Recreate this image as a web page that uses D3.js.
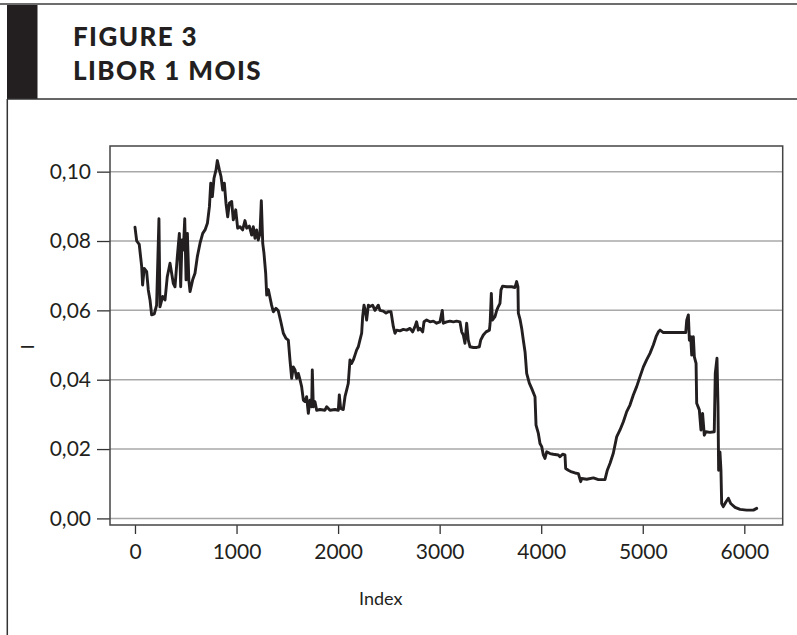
<!DOCTYPE html>
<html>
<head>
	<meta charset="utf-8">
	<title>Libor 1 mois</title>
	<script type="text/javascript" src="https://cdn.jsdelivr.net/npm/d3@7"></script>
	<style type="text/css">
		body { margin: 0; background: #fff; }
	</style>
</head>
<body>

<div id="chart"></div>

<script type="text/javascript">
const index = [
    0, 17, 42, 66, 75, 91, 115, 131, 148, 164, 190, 213, 236, 246, 273, 296, 318, 345, 361, 377,
    394, 417, 437, 450, 463, 476, 490, 503, 516, 530, 542, 568, 591, 614, 640, 667, 690, 713, 733, 746,
    762, 778, 798, 811, 831, 847, 864, 880, 896, 913, 929, 952, 968, 992, 1011, 1034, 1060, 1083, 1100, 1126,
    1149, 1165, 1182, 1198, 1214, 1231, 1244, 1258, 1270, 1287, 1297, 1313, 1345, 1362, 1388, 1411, 1434, 1461, 1487, 1510,
    1526, 1543, 1559, 1576, 1592, 1608, 1625, 1641, 1658, 1674, 1690, 1707, 1723, 1740, 1746, 1756, 1772, 1789, 1822, 1871,
    1888, 1920, 1970, 2002, 2012, 2025, 2051, 2068, 2084, 2100, 2117, 2133, 2150, 2166, 2183, 2199, 2215, 2232, 2242, 2255,
    2268, 2281, 2298, 2314, 2340, 2363, 2396, 2412, 2445, 2472, 2494, 2521, 2544, 2560, 2577, 2609, 2642, 2675, 2708, 2734,
    2757, 2773, 2790, 2806, 2833, 2846, 2872, 2905, 2938, 2970, 3003, 3026, 3036, 3069, 3102, 3135, 3167, 3200, 3217, 3233,
    3249, 3266, 3282, 3299, 3332, 3365, 3391, 3404, 3430, 3457, 3490, 3497, 3509, 3519, 3545, 3562, 3578, 3594, 3604, 3620,
    3659, 3709, 3742, 3758, 3771, 3775, 3791, 3808, 3824, 3841, 3857, 3883, 3906, 3939, 3949, 3972, 3988, 4005, 4021, 4037,
    4054, 4087, 4119, 4169, 4185, 4211, 4234, 4241, 4267, 4300, 4333, 4366, 4389, 4399, 4448, 4514, 4563, 4628, 4651, 4678,
    4710, 4743, 4776, 4809, 4842, 4874, 4907, 4940, 4973, 5006, 5038, 5071, 5104, 5131, 5154, 5170, 5203, 5269, 5334, 5400,
    5423, 5433, 5449, 5459, 5472, 5482, 5498, 5508, 5525, 5531, 5557, 5573, 5589, 5606, 5622, 5661, 5704, 5714, 5731, 5741,
    5747, 5760, 5770, 5777, 5793, 5820, 5843, 5866, 5909, 5958, 6023, 6089, 6122
];

const libor = [
    0.0840, 0.0800, 0.0790, 0.0726, 0.0673, 0.0721, 0.0712, 0.0659, 0.0630, 0.0587, 0.0590, 0.0615, 0.0864, 0.0610, 0.0640, 0.0630, 0.0697, 0.0736, 0.0707, 0.0678,
    0.0668, 0.0755, 0.0822, 0.0668, 0.0803, 0.0774, 0.0864, 0.0688, 0.0822, 0.0688, 0.0654, 0.0688, 0.0707, 0.0755, 0.0793, 0.0822, 0.0832, 0.0851, 0.0899, 0.0967,
    0.0928, 0.0981, 0.1005, 0.1032, 0.1005, 0.0986, 0.0947, 0.0967, 0.0909, 0.0870, 0.0909, 0.0914, 0.0861, 0.0890, 0.0837, 0.0841, 0.0832, 0.0859, 0.0837, 0.0843,
    0.0817, 0.0841, 0.0808, 0.0832, 0.0803, 0.0822, 0.0916, 0.0793, 0.0765, 0.0707, 0.0644, 0.0660, 0.0615, 0.0596, 0.0606, 0.0599, 0.0570, 0.0534, 0.0519, 0.0514,
    0.0457, 0.0404, 0.0437, 0.0428, 0.0404, 0.0418, 0.0400, 0.0380, 0.0341, 0.0337, 0.0351, 0.0303, 0.0341, 0.0322, 0.0428, 0.0322, 0.0337, 0.0312, 0.0314, 0.0312,
    0.0322, 0.0312, 0.0314, 0.0312, 0.0356, 0.0317, 0.0314, 0.0351, 0.0370, 0.0389, 0.0457, 0.0447, 0.0457, 0.0471, 0.0486, 0.0495, 0.0514, 0.0534, 0.0582, 0.0615,
    0.0600, 0.0572, 0.0615, 0.0611, 0.0615, 0.0600, 0.0615, 0.0600, 0.0598, 0.0592, 0.0596, 0.0596, 0.0553, 0.0534, 0.0543, 0.0541, 0.0545, 0.0543, 0.0548, 0.0538,
    0.0553, 0.0567, 0.0543, 0.0548, 0.0538, 0.0567, 0.0572, 0.0567, 0.0569, 0.0563, 0.0567, 0.0600, 0.0563, 0.0567, 0.0569, 0.0567, 0.0569, 0.0567, 0.0538, 0.0529,
    0.0505, 0.0563, 0.0514, 0.0495, 0.0493, 0.0493, 0.0495, 0.0514, 0.0529, 0.0538, 0.0543, 0.0563, 0.0649, 0.0572, 0.0582, 0.0600, 0.0611, 0.0620, 0.0659, 0.0670,
    0.0668, 0.0668, 0.0666, 0.0683, 0.0668, 0.0592, 0.0575, 0.0548, 0.0514, 0.0480, 0.0418, 0.0390, 0.0375, 0.0351, 0.0269, 0.0245, 0.0216, 0.0207, 0.0183, 0.0173,
    0.0192, 0.0187, 0.0185, 0.0183, 0.0178, 0.0185, 0.0183, 0.0144, 0.0139, 0.0134, 0.0131, 0.0129, 0.0106, 0.0115, 0.0113, 0.0117, 0.0112, 0.0112, 0.0139, 0.0159,
    0.0188, 0.0235, 0.0255, 0.0279, 0.0308, 0.0327, 0.0356, 0.0380, 0.0409, 0.0437, 0.0457, 0.0476, 0.0500, 0.0524, 0.0538, 0.0543, 0.0536, 0.0536, 0.0536, 0.0536,
    0.0536, 0.0572, 0.0587, 0.0514, 0.0524, 0.0471, 0.0524, 0.0466, 0.0447, 0.0332, 0.0313, 0.0255, 0.0303, 0.0240, 0.0250, 0.0248, 0.0250, 0.0418, 0.0462, 0.0322,
    0.0139, 0.0192, 0.0139, 0.0043, 0.0034, 0.0048, 0.0058, 0.0043, 0.0032, 0.0026, 0.0024, 0.0024, 0.0029
];

const xTicks = [0, 1000, 2000, 3000, 4000, 5000, 6000];
const yTicks = [0, 0.02, 0.04, 0.06, 0.08, 0.10];
const titleLines = ["FIGURE 3", "LIBOR 1 MOIS"];
const xLabel = "Index";
const yLabel = "I";

const data = index.map(function(d, i) { return {index: d, rate: libor[i]}; });

const W = 797, H = 635;
const margin = {top: 146, left: 110},
    width = 672.7,
    height = 379;

const ink = "#231f20";
const fontFamily = "Lato, 'Open Sans', sans-serif";

// virgule décimale comme dans la figure
const fr = d3.formatLocale({decimal: ",", thousands: " ", grouping: [3], currency: ["", " €"]});

const x = d3.scaleLinear()
    .domain([-246, 6378])
    .range([0, width]);

const y = d3.scaleLinear()
    .domain([-0.0019, 0.1074])
    .range([height, 0]);

const line = d3.line()
    .x(function(d) { return x(d.index); })
    .y(function(d) { return y(d.rate); });

const root = d3.select("#chart").append("svg")
    .attr("width", W)
    .attr("height", H)
    .style("display", "block");

root.append("rect")
    .attr("width", W)
    .attr("height", H)
    .attr("fill", "#fff");

// cadre de la page
root.append("line")
    .attr("x1", 0).attr("x2", W)
    .attr("y1", 4).attr("y2", 4)
    .attr("stroke", "#6d6d6d")
    .attr("stroke-width", 2);

root.append("rect")
    .attr("x", 7)
    .attr("y", 5)
    .attr("width", 30.5)
    .attr("height", 94)
    .attr("fill", ink);

root.append("line")
    .attr("x1", 7).attr("x2", W)
    .attr("y1", 99).attr("y2", 99)
    .attr("stroke", "#333")
    .attr("stroke-width", 1.5);

root.append("line")
    .attr("x1", 7.3).attr("x2", 7.3)
    .attr("y1", 99).attr("y2", H)
    .attr("stroke", "#333")
    .attr("stroke-width", 1.5);

// titre
root.selectAll(".title")
    .data(titleLines)
    .enter().append("text")
    .attr("class", "title")
    .attr("x", 73)
    .attr("y", function(d, i) { return 46 + i * 34; })
    .style("font-family", fontFamily)
    .style("font-weight", "900")
    .style("font-size", "26px")
    .style("letter-spacing", "1.4px")
    .style("fill", ink)
    .text(function(d) { return d; });

const svg = root.append("g")
    .attr("transform", "translate(" + margin.left + "," + margin.top + ")");

// grille horizontale
svg.selectAll(".grid")
    .data(yTicks)
    .enter().append("line")
    .attr("class", "grid")
    .attr("x1", 0)
    .attr("x2", width)
    .attr("y1", function(d) { return y(d); })
    .attr("y2", function(d) { return y(d); })
    .attr("stroke", "#a8a8a8")
    .attr("stroke-width", 1.5);

// axes
const xAxis = svg.append("g")
    .attr("transform", "translate(0," + height + ")")
    .call(d3.axisBottom(x)
        .tickValues(xTicks)
        .tickFormat(d3.format("d"))
        .tickSize(9)
        .tickSizeOuter(0)
        .tickPadding(10));

const yAxis = svg.append("g")
    .call(d3.axisLeft(y)
        .tickValues(yTicks)
        .tickFormat(fr.format(".2f"))
        .tickSize(13)
        .tickSizeOuter(0)
        .tickPadding(6));

[xAxis, yAxis].forEach(function(a) {
    a.select(".domain").remove();
    a.selectAll(".tick line")
        .attr("stroke", "#333")
        .attr("stroke-width", 1.3);
    a.selectAll(".tick text")
        .style("font-family", fontFamily)
        .style("font-size", "21px")
        .style("fill", ink);
});

// la série
svg.append("path")
    .datum(data)
    .attr("fill", "none")
    .attr("stroke", ink)
    .attr("stroke-width", 2.9)
    .attr("stroke-linejoin", "round")
    .attr("stroke-linecap", "round")
    .attr("d", line);

// cadre du graphique
svg.append("rect")
    .attr("width", width)
    .attr("height", height)
    .attr("fill", "none")
    .attr("stroke", "#444")
    .attr("stroke-width", 1.5);

// titres des axes
root.append("text")
    .attr("x", margin.left + x(2420))
    .attr("y", 605)
    .attr("text-anchor", "middle")
    .style("font-family", fontFamily)
    .style("font-size", "18px")
    .style("fill", ink)
    .text(xLabel);

root.append("text")
    .attr("transform", "translate(34,347) rotate(-90)")
    .attr("text-anchor", "middle")
    .style("font-family", fontFamily)
    .style("font-size", "18px")
    .style("fill", ink)
    .text(yLabel);
</script>

</body>
</html>
